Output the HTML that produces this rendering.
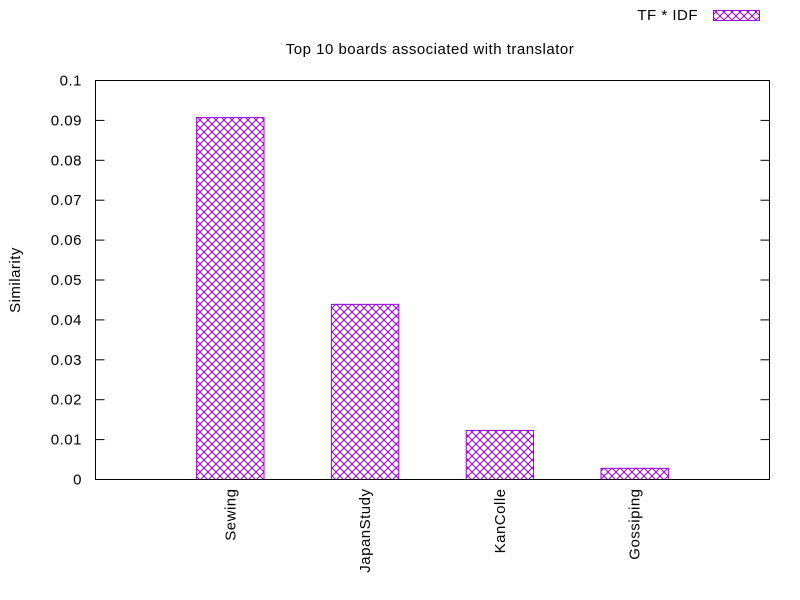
<!DOCTYPE html>
<html><head><meta charset="utf-8"><style>
body{margin:0;background:#fff}
svg{display:block;font-family:"Liberation Sans",sans-serif;font-size:15px;letter-spacing:0.5px}
</style></head><body>
<svg id="chart" width="800" height="600" viewBox="0 0 800 600" xmlns="http://www.w3.org/2000/svg">
<defs>
<pattern id="hatch" patternUnits="userSpaceOnUse" width="8" height="8">
<path d="M0,0 L8,8 M8,0 L0,8" stroke="#9400d3" stroke-width="1" fill="none"/>
</pattern>
</defs>
<rect width="800" height="600" fill="#fff"/>
<text x="430" y="54" text-anchor="middle">Top 10 boards associated with translator</text>
<text transform="translate(20,280) rotate(-90)" text-anchor="middle">Similarity</text>
<g>
<text x="698" y="20" text-anchor="end">TF * IDF</text>
<rect x="713.5" y="10.5" width="46" height="10" fill="url(#hatch)" stroke="#9400d3"/>
</g>
<g id="axes"></g>
<g id="bars"></g>
<rect x="95.5" y="80.5" width="674" height="399" fill="none" stroke="#000"/>
</svg>
<script>
const categories = ["Sewing","JapanStudy","KanColle","Gossiping"];
const values = [0.0907, 0.0439, 0.0123, 0.0028];
const yTicks = [0,0.01,0.02,0.03,0.04,0.05,0.06,0.07,0.08,0.09,0.1];
const yTickLabels = ["0","0.01","0.02","0.03","0.04","0.05","0.06","0.07","0.08","0.09","0.1"];
const NS="http://www.w3.org/2000/svg";
const L=95.5,R=769.5,T=80.5,B=479.5;
const xs=i=>L+(i+1)*(R-L)/5;
const ys=v=>B-v/0.1*(B-T);
const ax=document.getElementById('axes'),bg=document.getElementById('bars');
function mk(tag,attrs,parent){const e=document.createElementNS(NS,tag);for(const k in attrs)e.setAttribute(k,attrs[k]);parent.appendChild(e);return e;}
yTicks.forEach((v,i)=>{
  const t=mk('line',{x1:L,x2:L+9,y1:ys(v),y2:ys(v),stroke:'#000'},ax);
  
  
  const t2=mk('line',{x1:R-9,x2:R,y1:ys(v),y2:ys(v),stroke:'#000'},ax);
  
  
  const lb=mk('text',{x:82,y:ys(v)+5,'text-anchor':'end'},ax);
  lb.textContent=yTickLabels[i];
  
  
});
categories.forEach((c,i)=>{
  const x=xs(i);
  const lb=mk('text',{transform:`translate(${x+5},${B+9}) rotate(-90)`,'text-anchor':'end'},ax);
  lb.textContent=c;
  
  
  const w=(R-L)/10;
  const r=mk('rect',{x:x-w/2,y:ys(values[i]),width:w,height:B-ys(values[i]),fill:'url(#hatch)',stroke:'#9400d3'},bg);
  
  
});
</script>
</body></html>
